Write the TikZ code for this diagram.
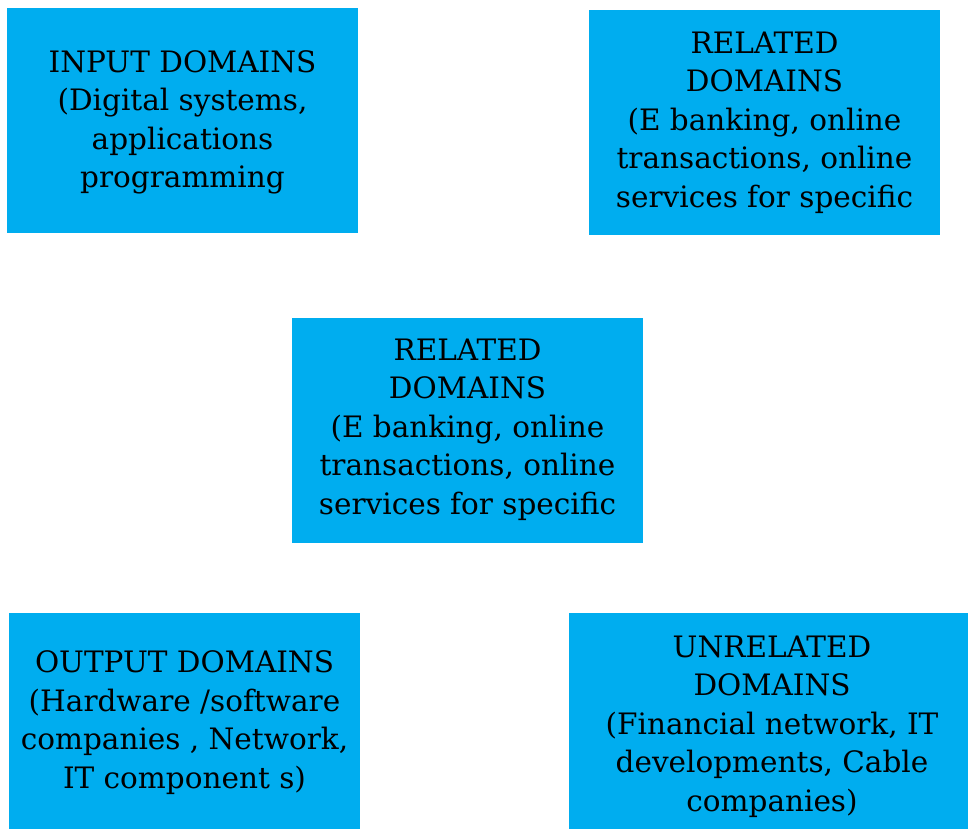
\documentclass[tikz,border=0pt]{standalone}
\usepackage{fontspec}
\setmainfont{DejaVu Serif}
\definecolor{boxblue}{HTML}{00ADEF}
\begin{document}
\begin{tikzpicture}[x=1pt,y=-1pt,
  dbox/.style={fill=boxblue,draw=none,inner sep=0pt,align=center,
    font=\fontsize{29.5}{38.5}\selectfont,text=black}]
\useasboundingbox (0,0) rectangle (968,829);
\fill[boxblue] (7,8) rectangle (358,233);
\node[dbox,fill=none] (input) at (182.5,122.5) {INPUT DOMAINS\\(Digital systems,\\applications\\programming};
\fill[boxblue] (589,10) rectangle (940,235);
\node[dbox,fill=none] (rel1) at (764.5,122.5) {RELATED\\DOMAINS\\(E banking, online\\transactions, online\\services for specific};
\fill[boxblue] (292,318) rectangle (643,543);
\node[dbox,fill=none] (rel2) at (467.5,429.5) {RELATED\\DOMAINS\\(E banking, online\\transactions, online\\services for specific};
\fill[boxblue] (9,613) rectangle (360,829);
\node[dbox,fill=none] (output) at (184.5,722.5) {OUTPUT DOMAINS\\(Hardware /software\\companies , Network,\\IT component s)};
\fill[boxblue] (569,613) rectangle (968,829);
\node[dbox,fill=none] (unrel) at (772,726.5) {UNRELATED\\DOMAINS\\(Financial network, IT\\developments, Cable\\companies)};
\end{tikzpicture}
\end{document}
